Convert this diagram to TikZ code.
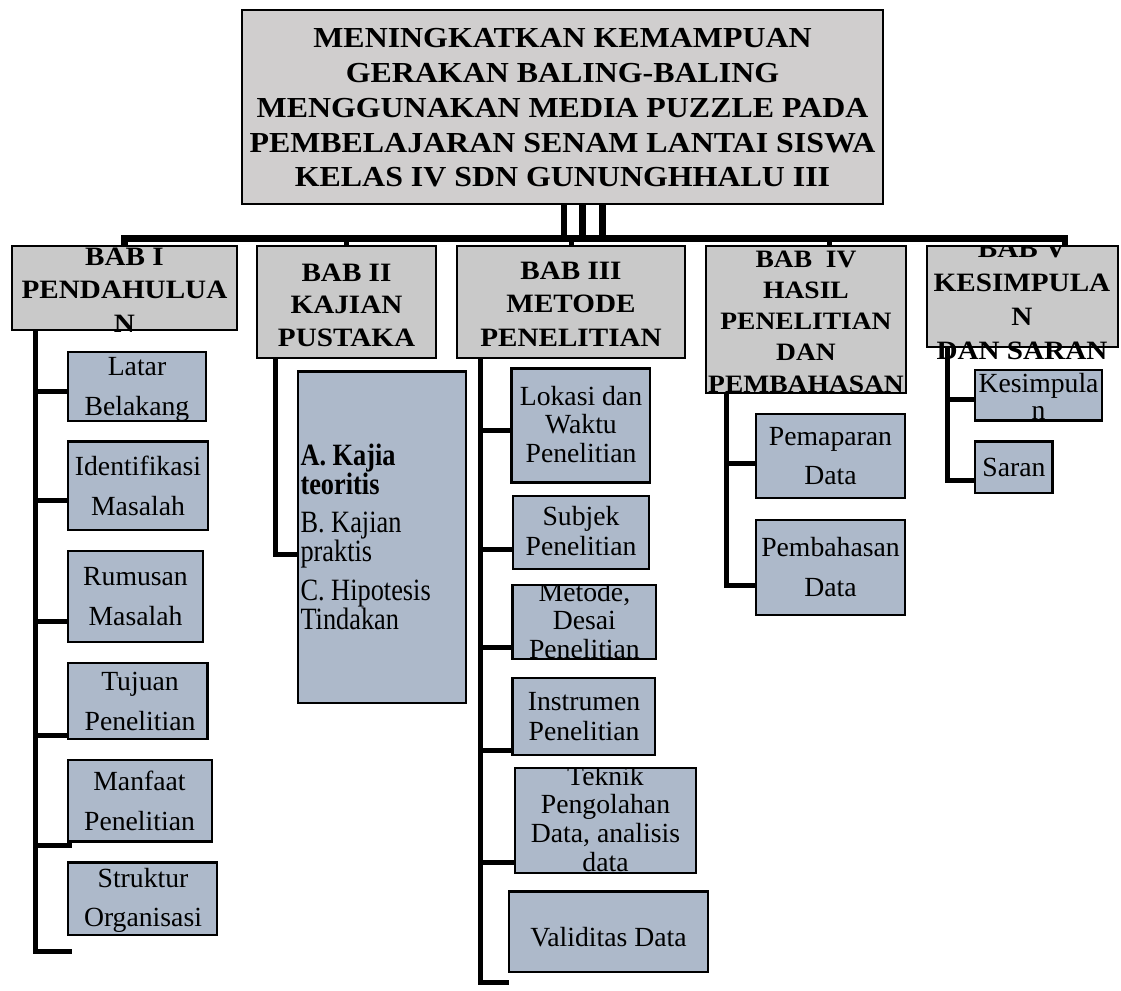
\documentclass[tikz,border=0pt]{standalone}
\usepackage{fontspec}
\setmainfont{Liberation Serif}
\newfontfamily\hdfont[FakeStretch=1.1]{Liberation Serif}
\newfontfamily\kjfont[FakeStretch=0.85]{Liberation Serif}
\definecolor{titlegray}{RGB}{208,206,206}
\definecolor{hdgray}{RGB}{201,201,201}
\definecolor{itemblue}{RGB}{173,185,202}
\newcommand\ctext[4]{\parbox[t]{#1}{\centering\fontsize{#2}{#3}\selectfont #4}}
\begin{document}
\begin{tikzpicture}[x=1pt,y=-1pt,
  bx/.style={draw=black, line width=2.5pt, inner sep=0pt, outer sep=0pt, anchor=north west},
  titlebox/.style={bx, fill=titlegray},
  hdbox/.style={bx, fill=hdgray},
  itembox/.style={bx, fill=itemblue},
  txt/.style={inner sep=0pt, outer sep=0pt, anchor=base},
  hdtxt/.style={txt, font=\hdfont\bfseries},
  itemtxt/.style={txt, font=\rmfamily},
  conn/.style={line width=5pt, line join=miter, line cap=butt},
  bus/.style={line width=6.5pt, line join=miter, line cap=butt},
  bar/.style={line width=6.5pt, line cap=butt}]
\useasboundingbox (0,0) rectangle (1121,990);
\fill[white] (0,0) rectangle (1121,990);

% ---------- boxes (nodes) ----------
\node[titlebox, minimum width=641pt, minimum height=194pt] (title) at (242,10) {};
\node[hdbox, minimum width=225pt, minimum height=84pt] (bab1) at (12,246) {};
\node[hdbox, minimum width=179pt, minimum height=112pt] (bab2) at (257,246) {};
\node[hdbox, minimum width=228pt, minimum height=112pt] (bab3) at (457,246) {};
\node[hdbox, minimum width=200pt, minimum height=147pt] (bab4) at (706,246) {};
\node[hdbox, minimum width=191pt, minimum height=101pt] (bab5) at (927,246) {};

\node[itembox, minimum width=138pt, minimum height=69pt] (latar) at (68,352) {};
\node[itembox, minimum width=140pt, minimum height=88.3pt] (ident) at (68,441.7) {};
\node[itembox, minimum width=135pt, minimum height=91pt] (rumus) at (68,551) {};
\node[itembox, minimum width=139.7pt, minimum height=76pt] (tujuan) at (68,663) {};
\node[itembox, minimum width=144pt, minimum height=81.7pt] (manfaat) at (68,760) {};
\node[itembox, minimum width=149pt, minimum height=72.3pt] (struktur) at (68,862.7) {};

\node[itembox, minimum width=168pt, minimum height=331.3pt] (kajian) at (298,371.7) {};

\node[itembox, minimum width=138.3pt, minimum height=114.4pt] (lokasi) at (511.7,368.3) {};
\node[itembox, minimum width=136pt, minimum height=73pt] (subjek) at (513,496) {};
\node[itembox, minimum width=143.3pt, minimum height=74pt] (metode) at (512.7,585) {};
\node[itembox, minimum width=142.3pt, minimum height=77pt] (instr) at (512.7,678) {};
\node[itembox, minimum width=181pt, minimum height=105pt] (teknik) at (515,768) {};
\node[itembox, minimum width=199pt, minimum height=80.3pt] (valid) at (509,891.7) {};

\node[itembox, minimum width=149pt, minimum height=84pt] (pemap) at (756,414) {};
\node[itembox, minimum width=149pt, minimum height=95pt] (pembah) at (756,520) {};

\node[itembox, minimum width=127pt, minimum height=50.7pt] (kesim) at (975,370) {};
\node[itembox, minimum width=77.7pt, minimum height=51.3pt] (saran) at (975,441.7) {};

% ---------- connectors ----------
\coordinate (bar1) at (564,238.5);
\coordinate (bar2) at (582.5,238.5);
\coordinate (bar3) at (602.5,238.5);
\coordinate (busR) at (1065,238.5);
\coordinate (s4) at (829,238.5);

\coordinate (b1end) at (35,951);
\coordinate (b1tick) at (72,951);
\coordinate (j1a) at (35,391.7);
\coordinate (j1b) at (35,500);
\coordinate (j1c) at (35,621.7);
\coordinate (j1d) at (35,735.5);
\coordinate (j1e) at (35,845);
\coordinate (j1et) at (72,845);

\coordinate (j2) at (275.5,554.5);

\coordinate (b3end) at (480,982);
\coordinate (b3tick) at (509,982);
\coordinate (j3a) at (480,430);
\coordinate (j3b) at (480,549);
\coordinate (j3c) at (480,647);
\coordinate (j3d) at (480,750.7);
\coordinate (j3e) at (480,862.7);

\coordinate (j4a) at (726.5,463.3);
\coordinate (j4b) at (726.5,585);

\coordinate (j5a) at (947.5,399.3);
\coordinate (j5b) at (947.5,480);

\draw[bar] (bar1) -- (bar1 |- title.south);
\draw[bar] (bar2) -- (bar2 |- title.south);
\draw[bar] (bar3) -- (bar3 |- title.south);
\draw[bus] (bab1.north) |- (busR) -- (busR |- bab5.north);
\draw[conn] (bab2.north) -- (bab2.north |- busR);
\draw[conn] (bab3.north) -- (bab3.north |- busR);
\draw[conn] (s4) -- (s4 |- bab4.north);

\draw[conn] (b1end |- bab1.south) -- (b1end) -- (b1tick);
\draw[conn] (j1a) -- (j1a -| latar.west);
\draw[conn] (j1b) -- (j1b -| ident.west);
\draw[conn] (j1c) -- (j1c -| rumus.west);
\draw[conn] (j1d) -- (j1d -| tujuan.west);
\draw[conn] (j1e) -- (j1et);

\draw[conn] (j2 |- bab2.south) -- (j2) -- (j2 -| kajian.west);

\draw[conn] (b3end |- bab3.south) -- (b3end) -- (b3tick);
\draw[conn] (j3a) -- (j3a -| lokasi.west);
\draw[conn] (j3b) -- (j3b -| subjek.west);
\draw[conn] (j3c) -- (j3c -| metode.west);
\draw[conn] (j3d) -- (j3d -| instr.west);
\draw[conn] (j3e) -- (j3e -| teknik.west);

\draw[conn] (j4b |- bab4.south) -- (j4b) -- (j4b -| pembah.west);
\draw[conn] (j4a) -- (j4a -| pemap.west);

\draw[conn] (j5b |- bab5.south) -- (j5b) -- (j5b -| saran.west);
\draw[conn] (j5a) -- (j5a -| kesim.west);

% redraw boxes over connector ends
\node[titlebox, minimum width=641pt, minimum height=194pt] at (242,10) {};
\node[hdbox, minimum width=225pt, minimum height=84pt] at (12,246) {};
\node[hdbox, minimum width=179pt, minimum height=112pt] at (257,246) {};
\node[hdbox, minimum width=228pt, minimum height=112pt] at (457,246) {};
\node[hdbox, minimum width=200pt, minimum height=147pt] at (706,246) {};
\node[hdbox, minimum width=191pt, minimum height=101pt] at (927,246) {};

% ---------- texts ----------
\node[hdtxt] (titleT) at (562.5,48) {\ctext{700pt}{29}{34.75}{MENINGKATKAN KEMAMPUAN\\GERAKAN BALING-BALING\\MENGGUNAKAN MEDIA PUZZLE PADA\\PEMBELAJARAN SENAM LANTAI SISWA\\KELAS IV SDN GUNUNGHHALU III}};

\begin{scope}
\clip (0,247.3) rectangle (1121,990);
\node[hdtxt] (bab1T) at (124.5,265) {\ctext{300pt}{26.5}{33.7}{BAB I\\PENDAHULUA\\N}};
\node[hdtxt] (bab2T) at (346.5,281) {\ctext{300pt}{26.5}{32.5}{BAB II\\KAJIAN\\PUSTAKA}};
\node[hdtxt] (bab3T) at (571,279) {\ctext{300pt}{26.5}{33.5}{BAB III\\METODE\\PENELITIAN}};
\node[hdtxt] (bab4T) at (806,267) {\ctext{300pt}{25}{31.25}{BAB~\ IV\\HASIL\\PENELITIAN\\DAN\\PEMBAHASAN}};
\node[hdtxt] (bab5T) at (1022,257.5) {\ctext{300pt}{26.5}{34}{BAB V\\KESIMPULA\\N\\DAN SARAN}};
\end{scope}

\node[itemtxt] (latarT) at (137,375) {\ctext{200pt}{27.7}{40}{Latar\\Belakang}};
\node[itemtxt] (identT) at (138,475) {\ctext{200pt}{27.7}{40}{Identifikasi\\Masalah}};
\node[itemtxt] (rumusT) at (135.5,585) {\ctext{200pt}{27.7}{40}{Rumusan\\Masalah}};
\node[itemtxt] (tujuanT) at (140,690) {\ctext{200pt}{27.7}{40}{Tujuan\\Penelitian}};
\node[itemtxt] (manfaatT) at (139.5,790) {\ctext{200pt}{27.7}{40}{Manfaat\\Penelitian}};
\node[itemtxt] (strukturT) at (143,887) {\ctext{200pt}{27.7}{39.7}{Struktur\\Organisasi}};

\node[txt, anchor=base west, font=\kjfont] (kajianT) at (300.5,465) {\parbox[t]{165pt}{\raggedright\fontsize{31}{28}\selectfont {\bfseries A. Kajia\\teoritis}\\[10.4pt]B. Kajian\\praktis\\[10.4pt]C. Hipotesis\\Tindakan}};

\node[itemtxt] (lokasiT) at (581,405) {\ctext{200pt}{27.7}{28.85}{Lokasi dan\\Waktu\\Penelitian}};
\node[itemtxt] (subjekT) at (581,525.7) {\ctext{200pt}{27.7}{29.3}{Subjek\\Penelitian}};
\begin{scope}
\clip (513.95,586.25) rectangle (654.75,657.75);
\node[itemtxt] (metodeT) at (584.4,601.7) {\ctext{200pt}{27.7}{28.2}{Metode,\\Desai\\Penelitian}};
\end{scope}
\node[itemtxt] (instrT) at (584,710) {\ctext{200pt}{27.7}{30}{Instrumen\\Penelitian}};
\begin{scope}
\clip (516.25,769.25) rectangle (694.75,871.75);
\node[itemtxt] (teknikT) at (605.5,785) {\ctext{220pt}{27.7}{28.9}{Teknik\\Pengolahan\\Data, analisis\\data}};
\end{scope}
\node[itemtxt] (validT) at (608.5,946.7) {\ctext{220pt}{27.7}{30}{Validitas Data}};

\node[itemtxt] (pemapT) at (830.5,445) {\ctext{200pt}{27.7}{39}{Pemaparan\\Data}};
\node[itemtxt] (pembahT) at (830.5,556) {\ctext{200pt}{27.7}{40}{Pembahasan\\Data}};

\node[itemtxt] (kesimT) at (1038.5,392) {\ctext{200pt}{27.7}{27}{Kesimpula\\n}};
\node[itemtxt] (saranT) at (1014,476.7) {\ctext{200pt}{27.7}{30}{Saran}};
\end{tikzpicture}
\end{document}
